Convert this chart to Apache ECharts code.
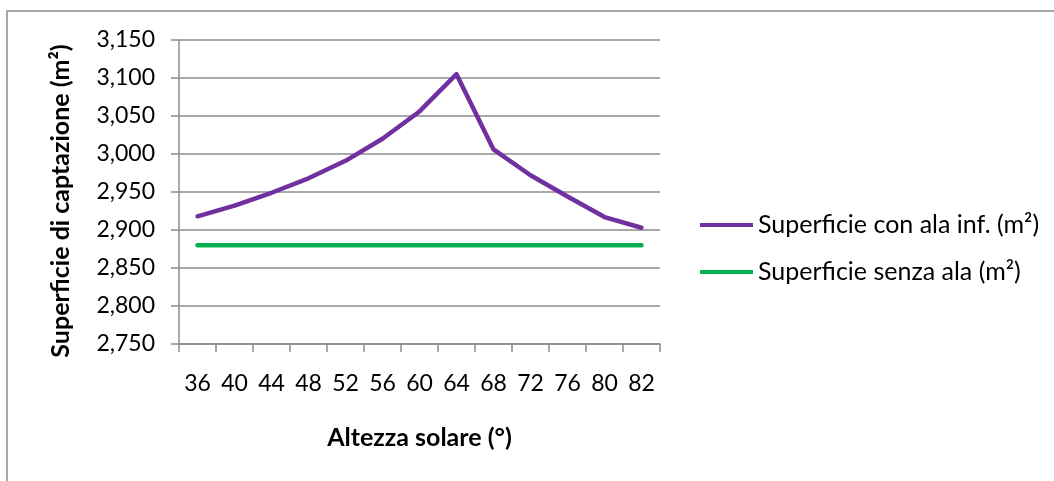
<!DOCTYPE html>
<html><head><meta charset="utf-8">
<script src="https://cdn.jsdelivr.net/npm/echarts@6/dist/echarts.min.js"></script>
<style>html,body{margin:0;padding:0;background:#fff}#c{width:1054px;height:481px}</style>
</head><body><div id="c"></div>
<script>
const categories = ['36','40','44','48','52','56','60','64','68','72','76','80','82'];
const conAla = [2918, 2932, 2949, 2968, 2991, 3020, 3056, 3105, 3006, 2972, 2944, 2917, 2903];
const senzaAla = [2880, 2880, 2880, 2880, 2880, 2880, 2880, 2880, 2880, 2880, 2880, 2880, 2880];
const seriesNames = ['Superficie con ala inf. (m²)', 'Superficie senza ala (m²)'];
const xTitle = 'Altezza solare (°)';
const yTitle = 'Superficie di captazione (m²)';
const FONT = 'Lato';
const chart = echarts.init(document.getElementById('c'), null, {renderer:'canvas'});
chart.setOption({
  animation:false,
  backgroundColor:'#fff',
  graphic:[{type:'rect', shape:{x:7, y:11, width:1200, height:600}, style:{fill:'none', stroke:'#8c8c8c', lineWidth:1.5}, silent:true}],
  grid:{left:179, right:394, top:40, bottom:137},
  legend:{
    orient:'vertical', left:695, top:206, itemWidth:53, itemHeight:4, itemGap:19, icon:'rect',
    textStyle:{fontFamily:FONT, fontSize:25, color:'#000', lineHeight:28},
    data:seriesNames
  },
  xAxis:{
    type:'category', data:categories, boundaryGap:true,
    name:xTitle, nameLocation:'middle', nameGap:81,
    nameTextStyle:{fontFamily:FONT, fontSize:25, fontWeight:'bold', color:'#000'},
    axisLine:{lineStyle:{color:'#8c8c8c', width:1.5}},
    axisTick:{show:true, length:8, lineStyle:{color:'#8c8c8c', width:1.5}},
    axisLabel:{fontFamily:FONT, fontSize:23, color:'#000', margin:28, interval:0}
  },
  yAxis:{
    type:'value', min:2750, max:3150, interval:50,
    name:yTitle, nameLocation:'middle', nameGap:106, nameRotate:90,
    nameTextStyle:{fontFamily:FONT, fontSize:25, fontWeight:'bold', color:'#000', padding:[0,18,0,0]},
    axisLine:{show:true, lineStyle:{color:'#8c8c8c', width:1.5}},
    axisTick:{show:true, length:8, lineStyle:{color:'#8c8c8c', width:1.5}},
    splitLine:{lineStyle:{color:'#8c8c8c', width:1.5}},
    axisLabel:{fontFamily:FONT, fontSize:23, color:'#000', margin:24,
      formatter:v=>v.toLocaleString('en-US')}
  },
  series:[
    {name:seriesNames[0], type:'line', data:conAla, showSymbol:false, symbol:'none',
     lineStyle:{color:'#7030A0', width:4.5, cap:'round', join:'round'}, itemStyle:{color:'#7030A0'}},
    {name:seriesNames[1], type:'line', data:senzaAla, showSymbol:false, symbol:'none',
     lineStyle:{color:'#00B050', width:4.5, cap:'round'}, itemStyle:{color:'#00B050'}}
  ]
});
</script></body></html>
